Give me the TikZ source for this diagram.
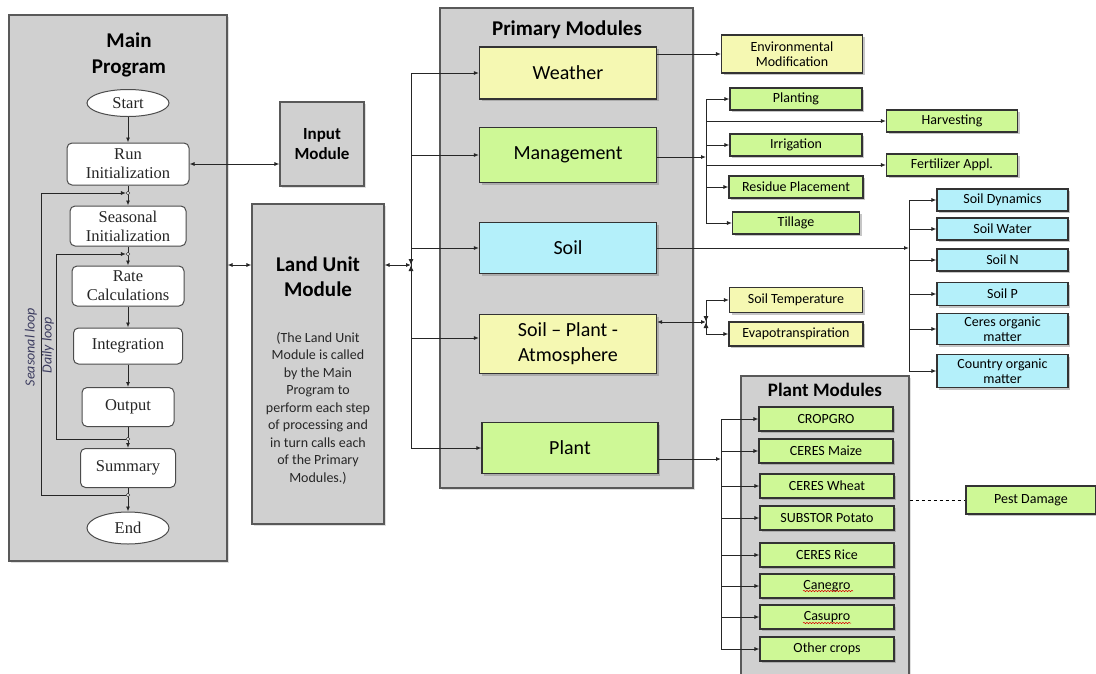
\documentclass[tikz,border=0pt]{standalone}
\usepackage{fontspec}
\setmainfont{Carlito}
\newfontfamily\flowfont{Liberation Serif}
\usetikzlibrary{arrows.meta,shapes.geometric,shadows,decorations.pathmorphing}

\definecolor{panelgray}{RGB}{208,208,208}
\definecolor{modyellow}{RGB}{245,248,178}
\definecolor{modgreen}{RGB}{206,248,150}
\definecolor{modcyan}{RGB}{180,240,250}
\definecolor{loopblue}{RGB}{60,60,95}

\tikzset{
  panel/.style={draw=black!65,fill=panelgray,line width=1.1pt,inner sep=0pt,
    drop shadow={shadow xshift=1.5pt,shadow yshift=-1.5pt,opacity=0.25}},
  flowbox/.style={draw=black!70,fill=white,rounded corners=5pt,line width=1pt,
    inner sep=0pt,align=center,text=black!85,
    font=\flowfont\fontsize{16.5}{19}\selectfont},
  flowend/.style={ellipse,draw=black!70,fill=white,line width=1pt,inner sep=0pt,
    text=black!85,font=\flowfont\fontsize{16.5}{19}\selectfont},
  modbox/.style={draw=black!80,line width=1.2pt,inner sep=0pt,align=center,
    font=\fontsize{20}{25}\selectfont,
    drop shadow={shadow xshift=2pt,shadow yshift=-2pt,opacity=0.45}},
  subbox/.style={draw=black!80,line width=1.1pt,inner sep=0pt,align=center,
    font=\fontsize{14}{15.5}\selectfont,
    drop shadow={shadow xshift=2pt,shadow yshift=-2pt,opacity=0.45}},
  jdot/.style={circle,draw=black!80,fill=white,line width=0.6pt,inner sep=0pt,minimum size=3.5pt},
  link/.style={-{Latex[length=5pt,width=4pt]},line width=0.9pt,draw=black!85},
  both/.style={{Latex[length=5pt,width=4pt]}-{Latex[length=5pt,width=4pt]},line width=0.9pt,draw=black!85},
  tipin/.style={{Latex[length=6pt,width=5pt]}-,line width=0.9pt,draw=black!85},
  squiggle/.style={red!85!black,line width=0.5pt,decorate,
    decoration={snake,amplitude=0.7pt,segment length=3pt}},
}

\begin{document}
\begin{tikzpicture}[x=1pt,y=-1pt]
  \useasboundingbox (0,0) rectangle (1096,673);

% panels
  \node[panel,minimum width=218pt,minimum height=546pt] (mainprog) at (118,288) {};
  \node[panel,minimum width=253pt,minimum height=480pt] (primary) at (566.5,248) {};
  \node[panel,minimum width=168pt,minimum height=304pt] (plantpanel) at (825,528) {};
  \node[panel,minimum width=84pt,minimum height=84pt,align=center,
    font=\bfseries\fontsize{17}{20}\selectfont] (input) at (322,144) {Input\\Module};
  \node[panel,minimum width=132pt,minimum height=320pt] (landunit) at (318,364) {};

% panel titles
  \node[align=center,font=\bfseries\fontsize{21}{26}\selectfont] (maintitle) at (129,55) {Main\\Program};
  \node[font=\bfseries\fontsize{21}{25}\selectfont] (primtitle) at (567,30) {Primary Modules};
  \node[font=\bfseries\fontsize{19}{22}\selectfont] (planttitle) at (825,390) {Plant Modules};
  \node[align=center,font=\bfseries\fontsize{21}{25}\selectfont] (lutitle) at (318,277) {Land Unit\\Module};
  \node[align=center,text=black!85,font=\fontsize{14}{17.5}\selectfont] (lutext) at (318,408)
    {(The Land Unit\\Module is called\\by the Main\\Program to\\perform each step\\of processing and\\in turn calls each\\of the Primary\\Modules.)};

% main program flow
  \node[flowend,minimum width=82pt,minimum height=27pt] (start) at (128,103) {Start};
  \node[flowbox,minimum width=122pt,minimum height=42pt] (runinit) at (128,164) {Run\\Initialization};
  \node[flowbox,minimum width=116pt,minimum height=40pt] (seasinit) at (128,226) {Seasonal\\Initialization};
  \node[flowbox,minimum width=112pt,minimum height=40pt] (rate) at (128,286) {Rate\\Calculations};
  \node[flowbox,minimum width=109pt,minimum height=36pt] (integ) at (128,346) {Integration};
  \node[flowbox,minimum width=92pt,minimum height=39pt] (output) at (128,407) {Output};
  \node[flowbox,minimum width=95pt,minimum height=39pt] (summary) at (128,468) {Summary};
  \node[flowend,minimum width=82pt,minimum height=32pt] (finish) at (128,528) {End};

  \draw[link] (start) -- (runinit);
  \draw[link] (runinit) -- (seasinit);
  \draw[link] (seasinit) -- (rate);
  \draw[link] (rate) -- (integ);
  \draw[link] (integ) -- (output);
  \draw[link] (output) -- (summary);
  \draw[link] (summary) -- (finish);

% seasonal and daily loops
  \node[jdot] (sj1) at (128,193) {};
  \node[jdot] (sj2) at (128,495) {};
  \node[jdot] (dj1) at (128,254) {};
  \node[jdot] (dj2) at (128,439) {};
  \draw[link] (sj2.west) -- ++(-84.3,0) |- (sj1.west);
  \draw[link] (dj2.west) -- ++(-69.3,0) |- (dj1.west);
  \node[rotate=90,text=loopblue,font=\itshape\fontsize{14}{16}\selectfont] (seaslabel) at (31,347) {Seasonal loop};
  \node[rotate=90,text=loopblue,font=\itshape\fontsize{14}{16}\selectfont] (dailylabel) at (48,345) {Daily loop};

% input and land unit links
  \coordinate (lujoin) at (411,265);
  \draw[both] (runinit.east) -- (runinit.east -| input.west);
  \draw[both] (mainprog.east |- lujoin) -- (landunit.west |- lujoin);
  \draw[both] (landunit.east |- lujoin) -- (lujoin);
  \draw[tipin] (lujoin) -- ++(0,-7);
  \draw[tipin] (lujoin) -- ++(0,7);

% primary modules
  \node[modbox,fill=modyellow,minimum width=177pt,minimum height=52pt] (weather) at (568,73) {Weather};
  \node[modbox,fill=modgreen,minimum width=177pt,minimum height=55pt] (mgmt) at (568,155) {Management};
  \node[modbox,fill=modcyan,minimum width=177pt,minimum height=51pt] (soil) at (568,248) {Soil};
  \node[modbox,fill=modyellow,minimum width=177pt,minimum height=59pt] (spa) at (568,344) {Soil – Plant -\\Atmosphere};
  \node[modbox,fill=modgreen,minimum width=176pt,minimum height=51pt] (plant) at (570,448) {Plant};

  \draw[line width=0.9pt,black!85] (lujoin |- weather) -- (lujoin |- plant);
  \foreach \m in {weather,mgmt,soil,plant}
    \draw[link] (lujoin |- \m) -- (\m.west);
  \draw[link] (lujoin |- 0,338) -- (spa.west |- 0,338);

% weather output
  \node[subbox,fill=modyellow,minimum width=141pt,minimum height=38pt] (envmod) at (792,54) {Environmental\\Modification};
  \draw[link] (weather.east |- envmod) -- (envmod.west);

% management outputs
  \node[subbox,fill=modgreen,minimum width=132pt,minimum height=22pt] (planting) at (796,99) {Planting};
  \node[subbox,fill=modgreen,minimum width=131pt,minimum height=22pt] (harvest) at (952,121) {Harvesting};
  \node[subbox,fill=modgreen,minimum width=132pt,minimum height=22pt] (irrig) at (796,145) {Irrigation};
  \node[subbox,fill=modgreen,minimum width=131pt,minimum height=22pt] (fert) at (952,165) {Fertilizer Appl.};
  \node[subbox,fill=modgreen,minimum width=134pt,minimum height=22pt] (residue) at (796,187) {Residue Placement};
  \node[subbox,fill=modgreen,minimum width=127pt,minimum height=22pt] (tillage) at (796,223) {Tillage};
  \coordinate (mbus) at (706,157);
  \draw[link] (mgmt.east |- mbus) -- (mbus);
  \draw[line width=0.9pt,black!85] (mbus |- planting) -- (mbus |- tillage);
  \foreach \m in {planting,harvest,irrig,fert,residue,tillage}
    \draw[link] (mbus |- \m) -- (\m.west);

% soil outputs
  \node[subbox,fill=modcyan,minimum width=131pt,minimum height=22pt] (soildyn) at (1002.5,200) {Soil Dynamics};
  \node[subbox,fill=modcyan,minimum width=131pt,minimum height=22pt] (soilwater) at (1002.5,229) {Soil Water};
  \node[subbox,fill=modcyan,minimum width=131pt,minimum height=22pt] (soiln) at (1002.5,260) {Soil N};
  \node[subbox,fill=modcyan,minimum width=131pt,minimum height=23pt] (soilp) at (1002.5,294) {Soil P};
  \node[subbox,fill=modcyan,minimum width=131pt,minimum height=31pt,font=\fontsize{14}{14.5}\selectfont] (ceresom) at (1002.5,329) {Ceres organic\\matter};
  \node[subbox,fill=modcyan,minimum width=131pt,minimum height=33pt,font=\fontsize{14}{15}\selectfont] (countryom) at (1002.5,371) {Country organic\\matter};
  \coordinate (sbus) at (909,248);
  \draw[link] (soil.east |- sbus) -- (sbus);
  \draw[line width=0.9pt,black!85] (sbus |- soildyn) -- (sbus |- countryom);
  \foreach \m in {soildyn,soilwater,soiln,soilp,ceresom,countryom}
    \draw[link] (sbus |- \m) -- (\m.west);

% soil-plant-atmosphere outputs
  \node[subbox,fill=modyellow,minimum width=133pt,minimum height=25pt] (soiltemp) at (796,300) {Soil Temperature};
  \node[subbox,fill=modyellow,minimum width=134pt,minimum height=24pt] (evapo) at (796,334) {Evapotranspiration};
  \coordinate (spajoin) at (706,322);
  \draw[both] (spa.east |- spajoin) -- (spajoin);
  \draw[line width=0.9pt,black!85] (spajoin |- soiltemp) -- (spajoin |- evapo);
  \draw[tipin] (spajoin) -- ++(0,-6);
  \draw[tipin] (spajoin) -- ++(0,6);
  \draw[link] (spajoin |- soiltemp) -- (soiltemp.west);
  \draw[link] (spajoin |- evapo) -- (evapo.west);

% plant modules
  \node[subbox,fill=modgreen,minimum width=134pt,minimum height=24pt] (cropgro) at (826,419) {CROPGRO};
  \node[subbox,fill=modgreen,minimum width=134pt,minimum height=24pt] (maize) at (826,451) {CERES Maize};
  \node[subbox,fill=modgreen,minimum width=134pt,minimum height=24pt] (wheat) at (827,486) {CERES Wheat};
  \node[subbox,fill=modgreen,minimum width=134pt,minimum height=24pt] (potato) at (827,518) {SUBSTOR Potato};
  \node[subbox,fill=modgreen,minimum width=134pt,minimum height=24pt] (rice) at (827,555) {CERES Rice};
  \node[subbox,fill=modgreen,minimum width=134pt,minimum height=24pt] (canegro) at (827,586) {Canegro};
  \node[subbox,fill=modgreen,minimum width=134pt,minimum height=24pt] (casupro) at (827,617) {Casupro};
  \node[subbox,fill=modgreen,minimum width=134pt,minimum height=24pt] (othercrops) at (827,649) {Other crops};
  \draw[squiggle] ([xshift=-24pt,yshift=-5pt]canegro.center) -- ++(50,0);
  \draw[squiggle] ([xshift=-24pt,yshift=-6pt]casupro.center) -- ++(48,0);
  \coordinate (pbus) at (721,459);
  \draw[link] (plant.east |- pbus) -- (pbus);
  \draw[line width=0.9pt,black!85] (pbus |- cropgro) -- (pbus |- othercrops);
  \foreach \m in {cropgro,maize,wheat,potato,rice,canegro,casupro,othercrops}
    \draw[link] (pbus |- \m) -- (\m.west);

% pest damage
  \node[subbox,fill=modgreen,minimum width=130pt,minimum height=28pt] (pest) at (1031,500) {Pest Damage};
  \draw[dashed,line width=0.8pt] (plantpanel.east |- pest) -- (pest.west);

\end{tikzpicture}
\end{document}
